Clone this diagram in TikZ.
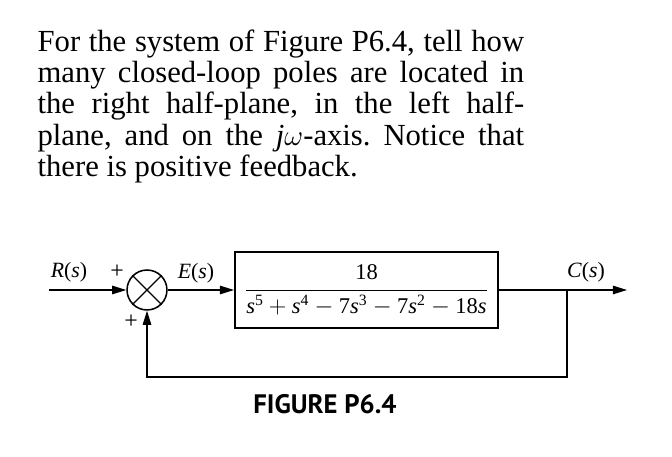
\documentclass[tikz,border=0pt]{standalone}
\usepackage{fontspec}
\setmainfont{Liberation Serif}
\newfontfamily\figfont{PT Sans}
\usetikzlibrary{arrows.meta, positioning, calc}

\newcommand{\sv}{\textit{s}}
\frenchspacing

\begin{document}
\begin{tikzpicture}[
    x=0.025cm, y=-0.025cm,
    >={Triangle[length=10pt,width=6pt]},
    line width=0.9pt,
    sumnode/.style={draw, circle, line width=1.1pt, minimum size=28.4pt,
                    inner sep=0pt},
    blockbox/.style={draw, line width=1.4pt, minimum width=187pt,
                     minimum height=54pt, inner sep=0pt,
                     font=\fontsize{16}{18}\selectfont},
    sig/.style={font=\fontsize{15.5}{17}\selectfont, inner sep=0pt, anchor=base},
    sgn/.style={font=\fontsize{17}{18}\selectfont, inner sep=0pt}
  ]
  \useasboundingbox (0,0) rectangle (672,457);

  % problem text
  \node[anchor=north west, text width=346pt, align=justify, inner sep=0pt,
        font=\fontsize{21.8}{22.3}\selectfont] (prob) at (37,29)
    {For the system of Figure P6.4, tell how\linebreak
     many closed-loop poles are located in\linebreak
     the right half-plane, in the left half-\linebreak
     plane, and on the \textit{j}$\omega$-axis. Notice that\linebreak
     there is positive feedback.};

  % block diagram
  \coordinate (in) at (49,290);
  \node[sumnode] (sum) at (147,290) {};
  \draw (sum.north west) -- (sum.south east)
        (sum.north east) -- (sum.south west);
  \node[blockbox] (plant) at (366.5,290)
    {$\displaystyle\frac{\mathrm{18}}{\sv^{\mathrm{5}}+\sv^{\mathrm{4}}
      -\mathrm{7}\sv^{\mathrm{3}}-\mathrm{7}\sv^{\mathrm{2}}-\mathrm{18}\sv}$};
  \coordinate (branch) at (567,290);
  \coordinate (out) at (627,290);
  \coordinate (fbk) at (567,377);

  \draw[->] (in) -- (sum.west);
  \draw[->] (sum.east) -- (plant.west);
  \draw[->] (plant.east) -- (out);
  \draw[->] (branch) -- (fbk) -| (sum.south);

  \node[sig] (rlab) at (69,278) {\textit{R}(\textit{s})};
  \node[sig] (elab) at (196,279) {\textit{E}(\textit{s})};
  \node[sig] (clab) at (586,278) {\textit{C}(\textit{s})};
  \node[sgn] (pin) at (117,272) {+};
  \node[sgn] (pfb) at (131,322) {+};

  \node[font=\figfont\bfseries\fontsize{19}{21}\selectfont] (fig) at (325,404)
    {FIGURE P6.4};
\end{tikzpicture}
\end{document}
